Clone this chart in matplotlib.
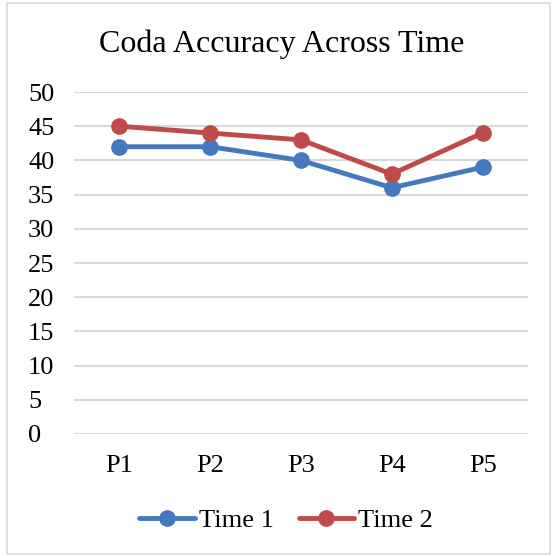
import matplotlib
matplotlib.use("Agg")
import matplotlib.pyplot as plt
from matplotlib.patches import Rectangle

categories = ["P1", "P2", "P3", "P4", "P5"]
time1 = [42, 42, 40, 36, 39]
time2 = [45, 44, 43, 38, 44]
series_names = ["Time 1", "Time 2"]
yticks = [0, 5, 10, 15, 20, 25, 30, 35, 40, 45, 50]

plt.rcParams['font.family'] = ['Liberation Serif', 'DejaVu Serif']

W, H = 554, 556
fig = plt.figure(figsize=(W / 100, H / 100), dpi=100)
fig.patches.append(Rectangle((7 / W, 2 / H), 543 / W, 551 / H, transform=fig.transFigure,
                             fill=False, edgecolor='#D9D9D9', linewidth=1.2))

ax = fig.add_axes([74 / W, 1 - 434 / H, 454 / W, 342 / H])
x = list(range(len(categories)))
blue = '#4478BF'
red = '#BE4B48'
ax.plot(x, time1, color=blue, linewidth=3.5, marker='o', markersize=11, label=series_names[0],
        solid_capstyle='round')
ax.plot(x, time2, color=red, linewidth=3.5, marker='o', markersize=11, label=series_names[1],
        solid_capstyle='round')

ax.set_xlim(-0.5, len(categories) - 0.5)
ax.set_ylim(0, 50)
ax.set_yticks(yticks)
ax.set_xticks(x)
ax.set_xticklabels(categories)
ax.yaxis.grid(True, color='#D9D9D9', linewidth=1.5)
ax.set_axisbelow(True)
for s in ax.spines.values():
    s.set_visible(False)
ax.tick_params(axis='both', length=0, labelsize=19, colors='black')
ax.tick_params(axis='x', pad=15)
ax.tick_params(axis='y', pad=33)
for lbl in ax.get_yticklabels():
    lbl.set_horizontalalignment('left')

fig.text(282 / W, 1 - 44 / H, "Coda Accuracy Across Time", ha='center', va='center', fontsize=23)

leg = fig.legend(loc='center', bbox_to_anchor=(286 / W, 1 - 520 / H), ncol=2, frameon=False,
                 fontsize=19, handlelength=2.1, handletextpad=0.15, columnspacing=0.95)

fig.savefig("out.png", dpi=100)
